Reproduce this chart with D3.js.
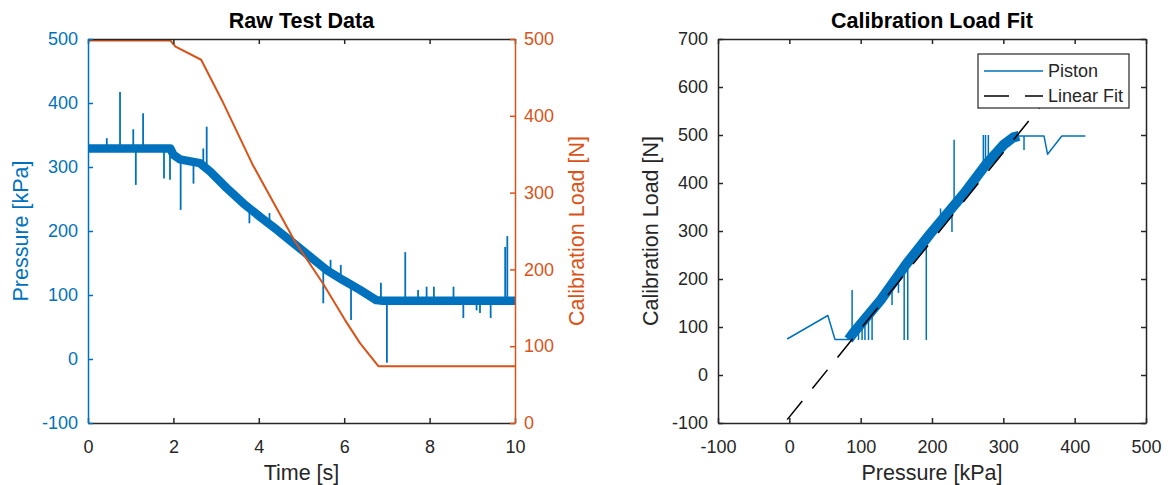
<!DOCTYPE html>
<html>
<head>
<meta charset="utf-8">
<script src="https://cdn.jsdelivr.net/npm/d3@7"></script>
<style>
  body { margin: 0; background: #fff; }
  svg text { font-family: "Liberation Sans", Arial, Helvetica, sans-serif; }
</style>
</head>
<body>
<svg id="chart" width="1168" height="485"></svg>
<script>
// ---- Raw Test Data (left) ----
// pressure trace: centre of the noisy band
const timeTrend     = [0, 1.93, 2.0, 2.15, 2.62, 2.86, 3.25, 3.64, 4.03, 4.42, 4.81, 5.2, 5.59, 5.98, 6.37, 6.75, 6.9, 10];
const pressureTrend = [329, 329, 319, 312, 306, 293, 267, 243, 222, 202, 181, 160, 139, 123, 108, 92, 91, 91];
// single-sample spikes [time, peak pressure]
const pressureSpikes = [
  [0.44, 345], [0.75, 417], [1.06, 359], [1.12, 272], [1.29, 384], [1.78, 282], [1.92, 280],
  [2.17, 233], [2.47, 274], [2.70, 329], [2.78, 363], [3.78, 212], [4.25, 228], [5.51, 87],
  [5.68, 155], [5.92, 147], [6.16, 61], [6.86, 119], [7.0, -6], [7.43, 167], [7.73, 108],
  [7.93, 113], [8.1, 113], [8.56, 113], [8.79, 64], [9.1, 76], [9.18, 72], [9.43, 64],
  [9.77, 175], [9.82, 192]
];
// calibration load (right axis)
const loadTime   = [0, 1.93, 2.05, 2.65, 3.13, 3.85, 4.85, 5.5, 6.02, 6.37, 6.8, 10];
const loadValues = [498, 498, 490, 473, 421, 337, 236, 182, 134, 104, 74, 74];

const timeTicks = [0, 2, 4, 6, 8, 10];
const pressureTicks = [-100, 0, 100, 200, 300, 400, 500];
const loadTicks = [0, 100, 200, 300, 400, 500];

// ---- Calibration Load Fit (right) ----
const pistonPressure = [-3, 54, 64, 83, 90, 128, 165, 198, 245, 277, 300, 314, 322, 357, 362, 382, 415];
const pistonLoad     = [75, 124, 74, 74, 88, 156, 233, 295, 378, 441, 479, 495, 498, 498, 460, 498, 498];
const bandRange = [83, 322];   // dense part of the piston trace
const pistonSpikes = [
  [88, 177], [97, 73], [102, 73], [106, 73], [111, 73], [116, 73], [144, 146], [153, 171], [161, 73],
  [166, 73], [192, 73], [212, 347], [228, 298], [231, 490], [272, 500], [275, 500], [279, 500],
  [329, 469]
];
const fitPressure = [-3, 415];
const fitLoad     = [-93, 675];

const fitXTicks = [-100, 0, 100, 200, 300, 400, 500];
const fitYTicks = [-100, 0, 100, 200, 300, 400, 500, 600, 700];

const BLUE = '#0072BD', ORANGE = '#D95319', AX = '#262626';
const FONT = '"Liberation Sans", Arial, Helvetica, sans-serif';
const plain = d => String(d);   // hyphen minus like the original

const svg = d3.select('#chart');

function styleAxis(g, color) {
  g.attr('font-family', FONT).attr('font-size', 18);
  g.select('.domain').attr('stroke', color).attr('stroke-width', 1.5);
  g.selectAll('.tick line').attr('stroke', color).attr('stroke-width', 1.5);
  g.selectAll('.tick text').attr('fill', color);
}

function clip(id, x0, y0, x1, y1) {
  svg.append('clipPath').attr('id', id).append('rect')
    .attr('x', x0).attr('y', y0).attr('width', x1 - x0).attr('height', y1 - y0);
}

// ================= left plot =================
const L = {left: 88, right: 515, top: 39, bottom: 423};
const xT = d3.scaleLinear([0, 10], [L.left, L.right]);
const yP = d3.scaleLinear([-100, 500], [L.bottom, L.top]);
const yL = d3.scaleLinear([0, 500], [L.bottom, L.top]);
clip('clipL', L.left, L.top, L.right, L.bottom);

const plotL = svg.append('g').attr('clip-path', 'url(#clipL)');
const trendIdx = d3.range(timeTrend.length);
const pAt = d3.scaleLinear(timeTrend, pressureTrend);

plotL.append('path')
  .attr('d', d3.line().x(i => xT(timeTrend[i])).y(i => yP(pressureTrend[i]))(trendIdx))
  .attr('fill', 'none').attr('stroke', BLUE).attr('stroke-width', 8.5)
  .attr('stroke-linejoin', 'round').attr('stroke-linecap', 'butt');

plotL.selectAll('.spikeL').data(pressureSpikes).join('line')
  .attr('class', 'spikeL')
  .attr('x1', d => xT(d[0])).attr('x2', d => xT(d[0]))
  .attr('y1', d => yP(pAt(d[0]))).attr('y2', d => yP(d[1]))
  .attr('stroke', BLUE).attr('stroke-width', 1.8);

plotL.append('path')
  .attr('d', d3.line().x(i => xT(loadTime[i])).y(i => yL(loadValues[i]))(d3.range(loadTime.length)))
  .attr('fill', 'none').attr('stroke', ORANGE).attr('stroke-width', 2).attr('stroke-linejoin', 'round');

svg.append('g').attr('transform', `translate(0,${L.bottom})`)
  .call(d3.axisBottom(xT).tickValues(timeTicks).tickFormat(plain).tickSizeInner(-5).tickSizeOuter(0).tickPadding(17.5))
  .call(g => styleAxis(g, AX));
svg.append('g').attr('transform', `translate(0,${L.top})`)
  .call(d3.axisTop(xT).tickValues(timeTicks).tickFormat('').tickSizeInner(-5).tickSizeOuter(0))
  .call(g => styleAxis(g, AX));
svg.append('g').attr('transform', `translate(${L.left},0)`)
  .call(d3.axisLeft(yP).tickValues(pressureTicks).tickFormat(plain).tickSizeInner(-5).tickSizeOuter(0).tickPadding(10))
  .call(g => styleAxis(g, BLUE));
svg.append('g').attr('transform', `translate(${L.right},0)`)
  .call(d3.axisRight(yL).tickValues(loadTicks).tickFormat(plain).tickSizeInner(-5).tickSizeOuter(0).tickPadding(9))
  .call(g => styleAxis(g, ORANGE));

svg.append('text').attr('x', (L.left + L.right) / 2).attr('y', 28).attr('text-anchor', 'middle')
  .attr('font-size', 21.5).attr('font-weight', 'bold').attr('fill', '#000').text('Raw Test Data');
svg.append('text').attr('x', (L.left + L.right) / 2).attr('y', 480).attr('text-anchor', 'middle')
  .attr('font-size', 21.5).attr('fill', AX).text('Time [s]');
svg.append('text').attr('transform', `translate(28,${(L.top + L.bottom) / 2}) rotate(-90)`)
  .attr('text-anchor', 'middle').attr('font-size', 21.5).attr('fill', BLUE).text('Pressure [kPa]');
svg.append('text').attr('transform', `translate(584,${(L.top + L.bottom) / 2}) rotate(-90)`)
  .attr('text-anchor', 'middle').attr('font-size', 21.5).attr('fill', ORANGE).text('Calibration Load [N]');

// ================= right plot =================
const R = {left: 718, right: 1146, top: 39, bottom: 423};
const xP = d3.scaleLinear([-100, 500], [R.left, R.right]);
const yF = d3.scaleLinear([-100, 700], [R.bottom, R.top]);
clip('clipR', R.left, R.top, R.right, R.bottom);

const plotR = svg.append('g').attr('clip-path', 'url(#clipR)');
const loadAt = d3.scaleLinear(pistonPressure, pistonLoad);
const pIdx = d3.range(pistonPressure.length);
const pistonLine = d3.line().x(i => xP(pistonPressure[i])).y(i => yF(pistonLoad[i]));

plotR.append('path').attr('d', pistonLine(pIdx))
  .attr('fill', 'none').attr('stroke', BLUE).attr('stroke-width', 1.5).attr('stroke-linejoin', 'round');
plotR.append('path')
  .attr('d', pistonLine(pIdx.filter(i => pistonPressure[i] >= bandRange[0] && pistonPressure[i] <= bandRange[1])))
  .attr('fill', 'none').attr('stroke', BLUE).attr('stroke-width', 10)
  .attr('stroke-linejoin', 'round').attr('stroke-linecap', 'butt');
plotR.selectAll('.spikeR').data(pistonSpikes).join('line')
  .attr('class', 'spikeR')
  .attr('x1', d => xP(d[0])).attr('x2', d => xP(d[0]))
  .attr('y1', d => yF(loadAt(d[0]))).attr('y2', d => yF(d[1]))
  .attr('stroke', BLUE).attr('stroke-width', 1.5);

plotR.append('path')
  .attr('d', d3.line().x(i => xP(fitPressure[i])).y(i => yF(fitLoad[i]))([0, 1]))
  .attr('fill', 'none').attr('stroke', '#000').attr('stroke-width', 1.5).attr('stroke-dasharray', '24,16');

svg.append('g').attr('transform', `translate(0,${R.bottom})`)
  .call(d3.axisBottom(xP).tickValues(fitXTicks).tickFormat(plain).tickSizeInner(-5).tickSizeOuter(0).tickPadding(17.5))
  .call(g => styleAxis(g, AX));
svg.append('g').attr('transform', `translate(0,${R.top})`)
  .call(d3.axisTop(xP).tickValues(fitXTicks).tickFormat('').tickSizeInner(-5).tickSizeOuter(0))
  .call(g => styleAxis(g, AX));
svg.append('g').attr('transform', `translate(${R.left},0)`)
  .call(d3.axisLeft(yF).tickValues(fitYTicks).tickFormat(plain).tickSizeInner(-5).tickSizeOuter(0).tickPadding(10))
  .call(g => styleAxis(g, AX));
svg.append('g').attr('transform', `translate(${R.right},0)`)
  .call(d3.axisRight(yF).tickValues(fitYTicks).tickFormat('').tickSizeInner(-5).tickSizeOuter(0))
  .call(g => styleAxis(g, AX));

svg.append('text').attr('x', (R.left + R.right) / 2).attr('y', 28).attr('text-anchor', 'middle')
  .attr('font-size', 21.5).attr('font-weight', 'bold').attr('fill', '#000').text('Calibration Load Fit');
svg.append('text').attr('x', (R.left + R.right) / 2).attr('y', 480).attr('text-anchor', 'middle')
  .attr('font-size', 21.5).attr('fill', AX).text('Pressure [kPa]');
svg.append('text').attr('transform', `translate(658,${(R.top + R.bottom) / 2}) rotate(-90)`)
  .attr('text-anchor', 'middle').attr('font-size', 21.5).attr('fill', AX).text('Calibration Load [N]');

// legend
const leg = svg.append('g').attr('transform', 'translate(978,54)');
leg.append('rect').attr('width', 151).attr('height', 54)
  .attr('fill', '#fff').attr('stroke', AX).attr('stroke-width', 1.2);
const legendItems = [
  {label: 'Piston', color: BLUE, dash: null},
  {label: 'Linear Fit', color: '#000', dash: '25,16'}
];
legendItems.forEach((d, i) => {
  const y = 17 + i * 25;
  leg.append('line').attr('x1', 6).attr('x2', 65).attr('y1', y).attr('y2', y)
    .attr('stroke', d.color).attr('stroke-width', 1.5).attr('stroke-dasharray', d.dash);
  leg.append('text').attr('x', 70).attr('y', y).attr('dy', '0.35em')
    .attr('font-size', 18).attr('fill', AX).text(d.label);
});
</script>
</body>
</html>
